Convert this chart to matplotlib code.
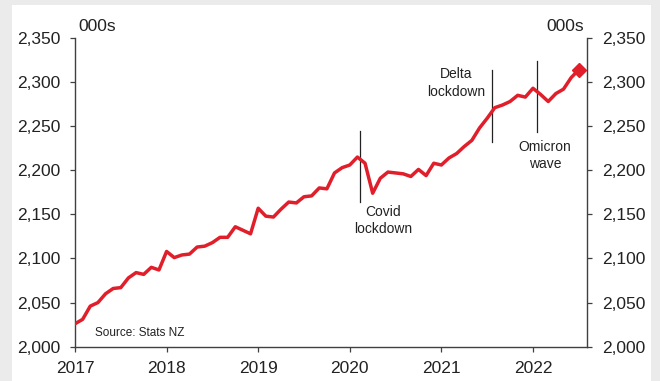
import numpy as np
import matplotlib.pyplot as plt
from matplotlib.patches import Rectangle

plt.rcParams["font.family"] = ["Liberation Sans", "DejaVu Sans"]

# monthly filled jobs (000s), Jan 2017 - Jul 2022
start_year = 2017
jobs = [
    2026, 2031, 2046, 2050, 2060, 2066, 2067, 2078, 2084, 2082, 2090, 2087,
    2108, 2101, 2104, 2105, 2113, 2114, 2118, 2124, 2124, 2136, 2132, 2128,
    2157, 2148, 2147, 2156, 2164, 2163, 2170, 2171, 2180, 2179, 2197, 2203,
    2206, 2215, 2208, 2174, 2191, 2198, 2197, 2196, 2193, 2201, 2194, 2208,
    2206, 2214, 2219, 2227, 2234, 2248, 2259, 2271, 2274, 2278, 2285, 2283,
    2293, 2286, 2278, 2287, 2292, 2305, 2314,
]
year_ticks = [2017, 2018, 2019, 2020, 2021, 2022]
y_ticks = [2000, 2050, 2100, 2150, 2200, 2250, 2300, 2350]

# event markers: (x, y_low, y_high, label, label x, label y)
events = [
    (2020.11, 2164, 2245, "Covid\nlockdown", 2020.36, 2143),
    (2021.55, 2232, 2314, "Delta\nlockdown", 2021.16, 2299),
    (2022.04, 2243, 2324, "Omicron\nwave", 2022.13, 2217),
]

x = start_year + np.arange(len(jobs)) / 12
red = "#e01f2b"
axis_col = "#404040"

fig = plt.figure(figsize=(6.6, 3.81), dpi=100, facecolor="#ebebeb")
fig.patches.append(Rectangle((12 / 660, 0), 639 / 660, 1 - 5 / 381,
                             transform=fig.transFigure, facecolor="white",
                             edgecolor="none", zorder=-10))
ax = fig.add_axes([75 / 660, 1 - 346.7 / 381, 512 / 660, 308.7 / 381])
ax.set_facecolor("none")
ax.set_zorder(5)

ax.plot(x, jobs, color=red, linewidth=2.5, solid_joinstyle="round", zorder=3)
ax.plot(x[-1], jobs[-1], marker="D", color=red, markersize=7, zorder=4)

for ex, ylo, yhi, label, tx, ty in events:
    ax.plot([ex, ex], [ylo, yhi], color="#222222", linewidth=0.9, zorder=2)
    ax.text(tx, ty, label, ha="center", va="center", fontsize=10,
            color="#222222", linespacing=1.3)

ax.set_xlim(2017, 2022.59)
ax.set_ylim(2000, 2350)
ax.set_xticks(year_ticks)
ax.set_xticklabels([str(y) for y in year_ticks])
ax.set_yticks(y_ticks)
ax.set_yticklabels([f"{v:,}" for v in y_ticks])
ax.tick_params(axis="both", direction="out", length=3.6, width=0.9,
               color=axis_col, labelsize=12.5, labelcolor="#222222")
ax.tick_params(axis="y", left=True, right=True, labelleft=True, labelright=True,
               pad=7)
ax.tick_params(axis="x", pad=6.5)

ax.spines["top"].set_visible(False)
for side in ["left", "right", "bottom"]:
    ax.spines[side].set_color(axis_col)
    ax.spines[side].set_linewidth(1.0)

ax.text(0.006, 1.0236, "000s", transform=ax.transAxes, ha="left",
        va="baseline", fontsize=12.5, color="#222222")
ax.text(0.994, 1.0236, "000s", transform=ax.transAxes, ha="right",
        va="baseline", fontsize=12.5, color="#222222")
ax.text(2017.22, 2015, "Source: Stats NZ", fontsize=8.5, color="#222222",
        ha="left", va="center")

fig.savefig("out.png", dpi=100, facecolor=fig.get_facecolor())
